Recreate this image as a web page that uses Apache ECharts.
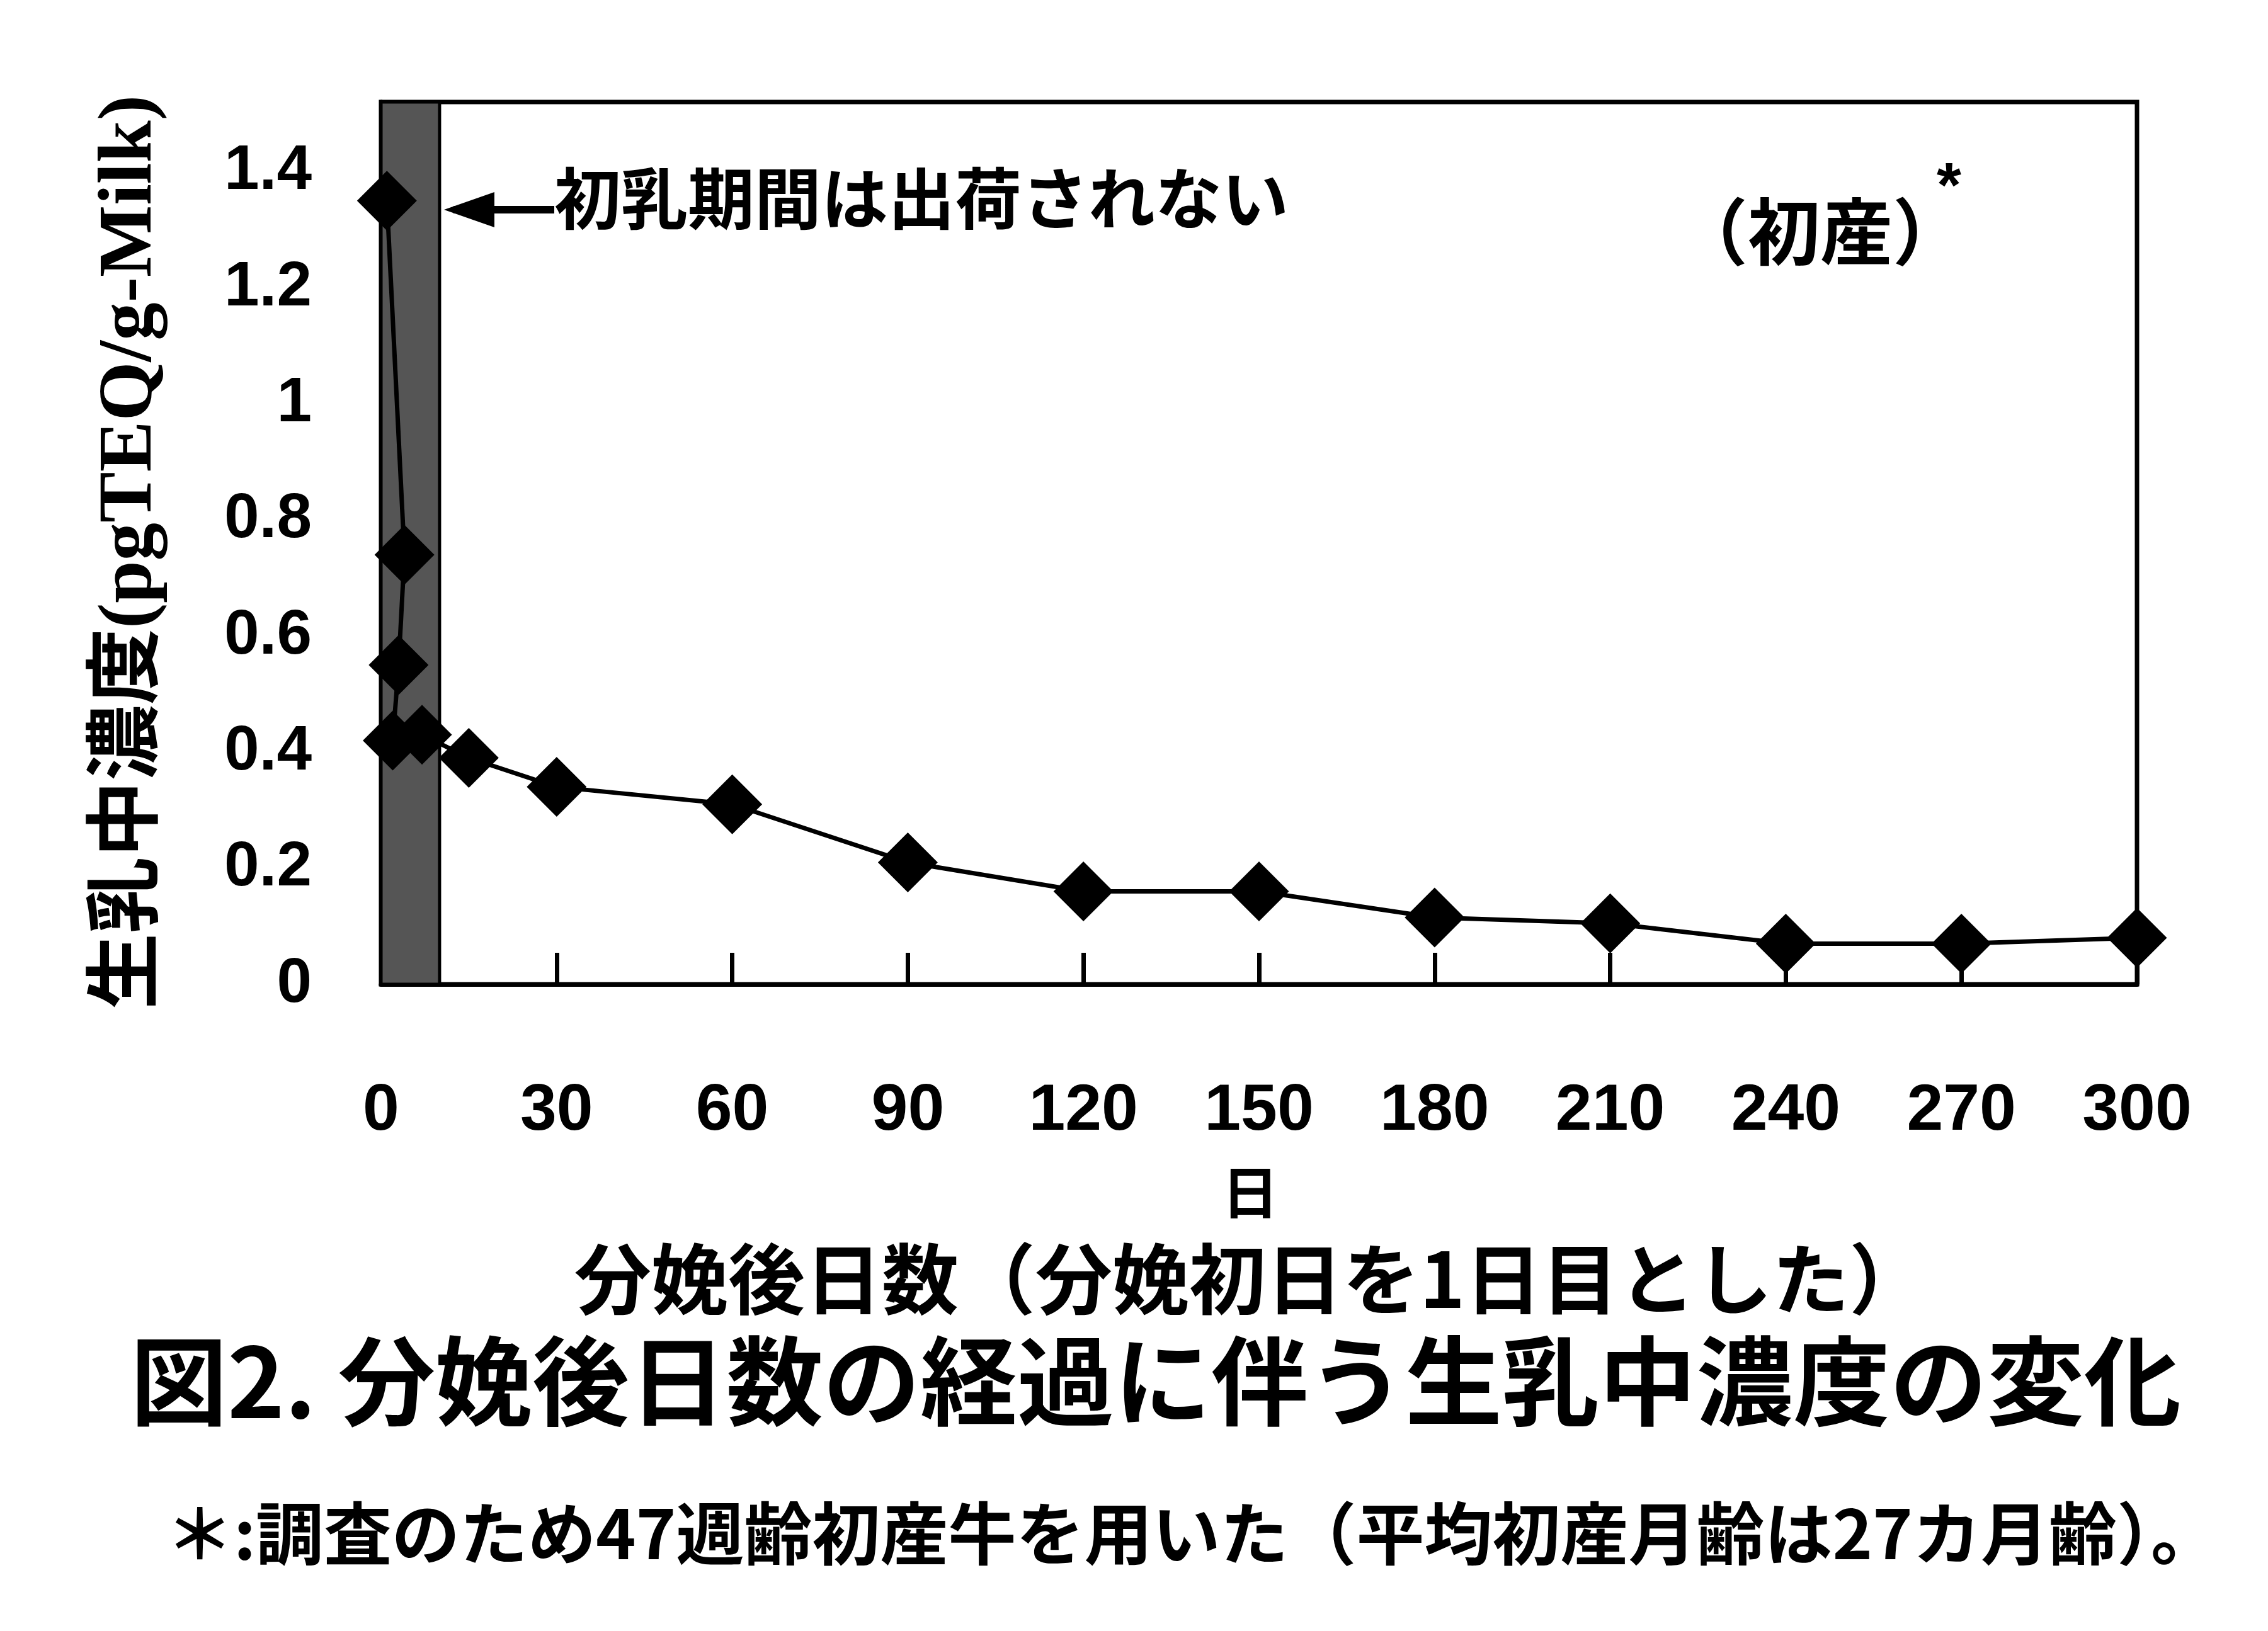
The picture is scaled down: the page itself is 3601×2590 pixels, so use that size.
<!DOCTYPE html><html><head><meta charset="utf-8"><script src="https://cdn.jsdelivr.net/npm/echarts@6/dist/echarts.min.js"></script>
<style>html,body{margin:0;background:#fff}#c{width:3601px;height:2590px}</style></head><body><div id="c"></div><script>
const days=[1,4,3,2,7,15,30,60,90,120,150,180,210,240,270,300];
const values=[1.35,0.74,0.55,0.42,0.43,0.39,0.34,0.31,0.21,0.16,0.16,0.115,0.105,0.07,0.07,0.08];
const colostrumEnd=10;
const jp='"Noto Sans CJK JP"';
const ch=echarts.init(document.getElementById('c'));
ch.setOption({animation:false,
grid:{left:605,right:208,top:162,bottom:1027,show:true,borderColor:'#000',borderWidth:7,backgroundColor:'#fff'},
xAxis:{type:'value',min:0,max:300,interval:30,axisLine:{lineStyle:{color:'#000',width:7}},
axisTick:{inside:true,length:50,lineStyle:{color:'#000',width:7}},splitLine:{show:false},
axisLabel:{margin:150,fontSize:104,fontWeight:'bold',color:'#000',fontFamily:'Liberation Sans'}},
yAxis:{type:'value',min:0,max:1.52,interval:0.2,axisLine:{show:true,lineStyle:{color:'#000',width:7}},axisTick:{show:false},splitLine:{show:false},
axisLabel:{showMaxLabel:false,margin:110,fontSize:100,fontWeight:'bold',color:'#000',fontFamily:'Liberation Sans',formatter:v=>String(+v.toFixed(1))}},
series:[{type:'line',data:days.map((d,i)=>[d,values[i]]),symbol:'diamond',symbolSize:[95,95],
lineStyle:{color:'#000',width:7},itemStyle:{color:'#000'},z:3,
markArea:{silent:true,itemStyle:{color:'#555',borderColor:'#000',borderWidth:5},data:[[{xAxis:0},{xAxis:colostrumEnd}]]}}],
graphic:[
{type:'text',left:880,top:262,style:{text:'初乳期間は出荷されない',font:'bold 106px '+jp,fill:'#000'}},
{type:'line',shape:{x1:720,y1:333,x2:880,y2:333},style:{stroke:'#000',lineWidth:12}},
{type:'polygon',shape:{points:[[705,333],[785,305],[785,361]]},style:{fill:'#000'}},
{type:'text',left:2660,top:310,style:{text:'（初産）',font:'bold 115px '+jp,fill:'#000'}},
{type:'text',left:3075,top:250,style:{text:'*',font:'bold 100px Liberation Sans',fill:'#000'}},
{type:'text',x:208,y:877,rotation:Math.PI/2,style:{text:'生乳中濃度(pgTEQ/g-Milk)',font:'bold 121px "Liberation Serif", '+jp,fill:'#000',textAlign:'center',textVerticalAlign:'middle'}},
{type:'text',x:1985,y:1893,style:{text:'日',font:'bold 90px '+jp,fill:'#000',textAlign:'center',textVerticalAlign:'middle'}},
{type:'text',x:1985,y:2031,style:{text:'分娩後日数（分娩初日を1日目とした）',font:'bold 122px '+jp,fill:'#000',textAlign:'center',textVerticalAlign:'middle'}},
{type:'text',x:1835,y:2193,style:{text:'図2. 分娩後日数の経過に伴う生乳中濃度の変化',font:'bold 154px '+jp,fill:'#000',textAlign:'center',textVerticalAlign:'middle'}},
{type:'text',x:1893,y:2435,style:{text:'＊:調査のため47週齢初産牛を用いた（平均初産月齢は27カ月齢）。',font:'bold 108px '+jp,fill:'#000',textAlign:'center',textVerticalAlign:'middle'}}
]});
</script></body></html>
